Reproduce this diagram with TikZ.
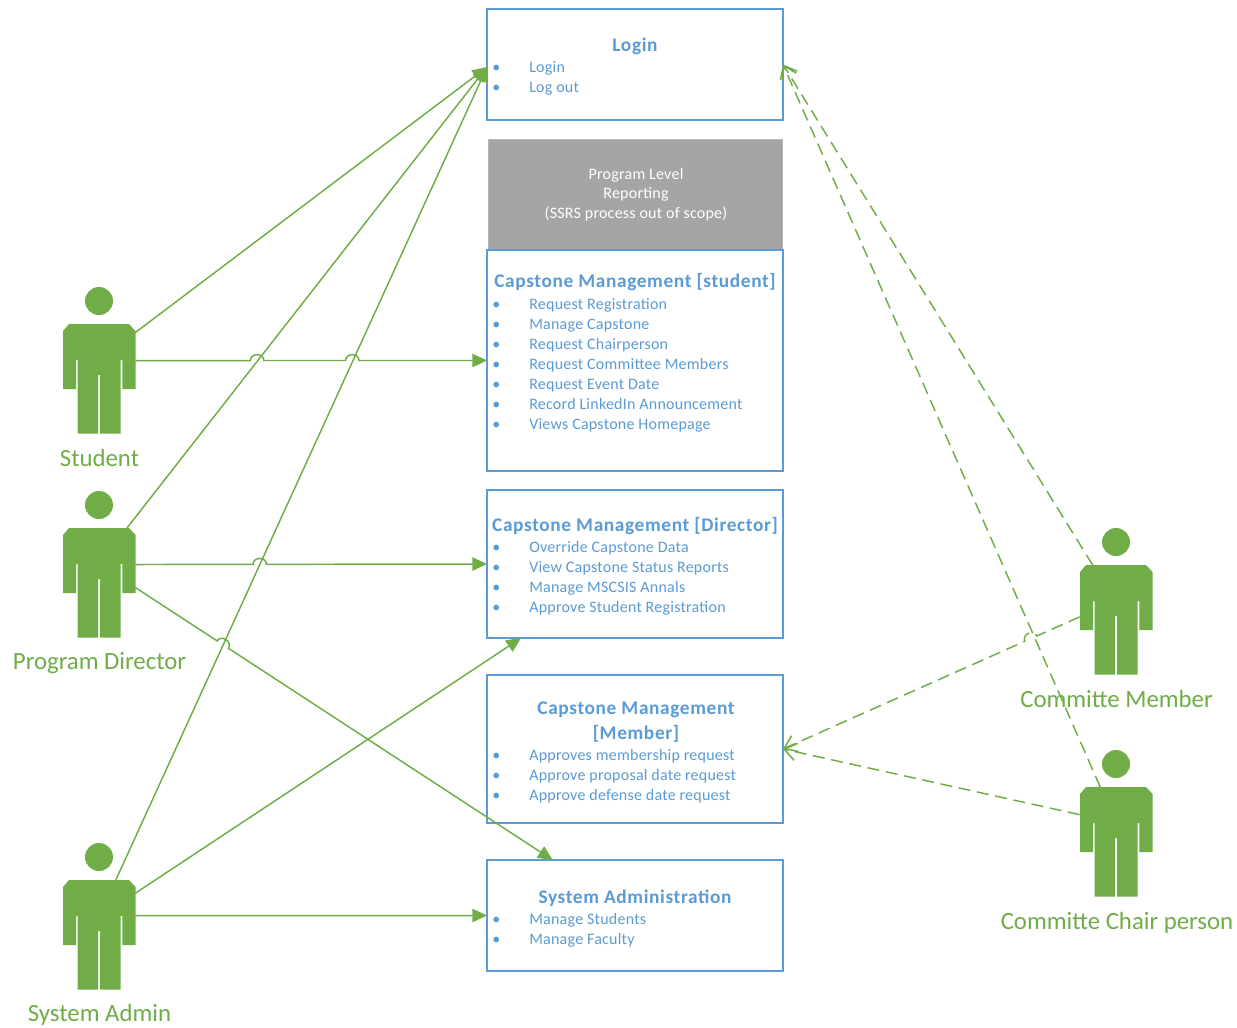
\documentclass[tikz,border=0pt]{standalone}
\usepackage{fontspec}
\setmainfont{Carlito}
\usetikzlibrary{arrows.meta,calc}
\definecolor{grn}{HTML}{70AD47}
\definecolor{blu}{HTML}{5B9BD5}
\definecolor{gry}{HTML}{A5A5A5}
\tikzset{
  x=0.75pt,y=-0.75pt,
  boxnode/.style={draw=blu,line width=1.1pt,fill=white,inner sep=0,outer sep=0,minimum width=222pt},
  graybox/.style={fill=gry,draw=gry!80!white,line width=.5pt,inner sep=0,outer sep=0,minimum width=220.5pt,minimum height=82.5pt},
  graytext/.style={inner sep=0,text=white,align=center,font=\fontsize{12}{14.6}\selectfont\addfontfeature{LetterSpace=1.5}},
  titletext/.style={inner sep=0,text=blu,align=center,font=\fontsize{14.5}{18.75}\selectfont\bfseries\addfontfeature{LetterSpace=3.3}},
  itemtext/.style={inner sep=0,anchor=base west,text=blu,font=\fontsize{12}{14}\selectfont\addfontfeature{LetterSpace=1.5}},
  actorlabel/.style={inner sep=0,anchor=base,text=grn,font=\fontsize{18.6}{22}\selectfont},
  actorbody/.style={inner sep=0,outer sep=0,minimum width=54.4pt,minimum height=82.5pt},
  solidlink/.style={draw=grn,line width=1.1pt,-{Triangle[length=11pt,width=10pt]}},
  dashlink/.style={draw=grn,line width=1.1pt,dash pattern=on 9pt off 5pt,-{Straight Barb[length=9pt,width=13pt,line width=1.1pt]}},
  hopleft/.style={bend left=90,looseness=1.5},
  hopright/.style={bend right=90,looseness=1.5},
  actorfig/.pic={
    \fill[grn] (0,-23) circle[radius=14];
    \fill[grn] (-30,0)--(30,0)--(36.5,7)--(36.5,65)--(23.3,65)--(23.3,36)--(21.7,36)--(21.7,109.7)--(1,109.7)--(1,51)--(-1,51)--(-1,109.7)--(-21.5,109.7)--(-21.5,36)--(-23,36)--(-23,65)--(-36,65)--(-36,7)--cycle;
  }
}
% \itemlist{prefix}{first baseline y}{items}
\newcommand{\itemlist}[3]{%
  \foreach \txt [count=\n from 0] in {#3}{%
    \node[itemtext] (#1-\n) at (492,#2+20*\n) {\makebox[27.75pt][l]{•}\txt};
  }%
}
\newcommand{\actorat}[6]{% name, cx, top, label, label x, label baseline y
  \pic at (#2,#3) {actorfig};
  \node[actorbody] (#1) at (#2,#3+55) {};
  \node[actorlabel] (#1-label) at (#5,#6) {#4};
}
\begin{document}
\begin{tikzpicture}
\useasboundingbox (0,0) rectangle (1237,1027);
\fill[white] (0,0) rectangle (1237,1027);

\node[graybox] (report) at (635,194) {};
\node[graytext] (report-text) at (636,194.5) {Program Level\\Reporting\\(SSRS process out of scope)};
\node[boxnode,minimum height=83.25pt] (login) at (635,64.5) {};
\node[boxnode,minimum height=165.75pt] (capstudent) at (635,360.5) {};
\node[boxnode,minimum height=111pt] (capdirector) at (635,564) {};
\node[boxnode,minimum height=111pt] (capmember) at (635,749) {};
\node[boxnode,minimum height=83.25pt] (sysadmin) at (635,915.5) {};

\node[titletext,anchor=base] (login-title) at (635,51.5) {Login};
\itemlist{li}{72.5}{Login,Log out}
\node[titletext,anchor=base] (capstudent-title) at (635,287) {Capstone Management [student]};
\itemlist{cs}{309}{Request Registration,Manage Capstone,Request Chairperson,Request Committee Members,Request Event Date,Record LinkedIn Announcement,Views Capstone Homepage}
\node[titletext,anchor=base] (capdirector-title) at (635,531) {Capstone Management [Director]};
\itemlist{cd}{552}{Override Capstone Data,View Capstone Status Reports,Manage MSCSIS Annals,Approve Student Registration}
\node[titletext] (capmember-title) at (636,722.5) {Capstone Management\\{}[Member]};
\itemlist{cm}{760}{Approves membership request,Approve proposal date request,Approve defense date request}
\node[titletext,anchor=base] (sysadmin-title) at (635,903) {System Administration};
\itemlist{sa}{924}{Manage Students,Manage Faculty}

\actorat{student}{99}{324}{Student}{99.5}{466}
\actorat{director}{99}{528}{Program Director}{99.5}{669}
\actorat{admin}{99}{880}{System Admin}{99.5}{1021}
\actorat{member}{1116}{565}{Committe Member}{1116.5}{707}
\actorat{chair}{1116}{787}{Committe Chair person}{1117}{929}

% solid links
\draw[solidlink] (student.52.4) -- (login.181);
\draw[solidlink] (student.27.03) -- ($(student.27.03)!0.3275!(capstudent.west)$) to[hopleft] ($(student.27.03)!0.3655!(capstudent.west)$) -- ($(student.27.03)!0.598!(capstudent.west)$) to[hopleft] ($(student.27.03)!0.636!(capstudent.west)$) -- (capstudent.west);
\draw[solidlink] (director.63) -- (login.181);
\draw[solidlink] (director.27.7) -- ($(director.27.7)!0.335!(capdirector.west)$) to[hopleft] ($(director.27.7)!0.373!(capdirector.west)$) -- (capdirector.west);
\draw[solidlink] (director.-7.9) -- ($(director.-7.9)!0.196!(sysadmin.146.9)$) to[hopleft] ($(director.-7.9)!0.223!(sysadmin.146.9)$) -- (sysadmin.146.9);
\draw[solidlink] (admin.73.8) -- (login.181);
\draw[solidlink] (admin.49.9) -- (capdirector.213.2);
\draw[solidlink] (admin.28.1) -- (sysadmin.west);

% dashed links
\draw[dashlink] (member.113.6) -- (login.east);
\draw[dashlink] (member.175.3) -- ($(member.175.3)!0.145!(capmember.east)$) to[hopright] ($(member.175.3)!0.185!(capmember.east)$) -- (capmember.east);
\draw[dashlink] (chair.106.2) -- (login.east);
\draw[dashlink] (chair.143.3) -- (capmember.east);
\end{tikzpicture}
\end{document}
